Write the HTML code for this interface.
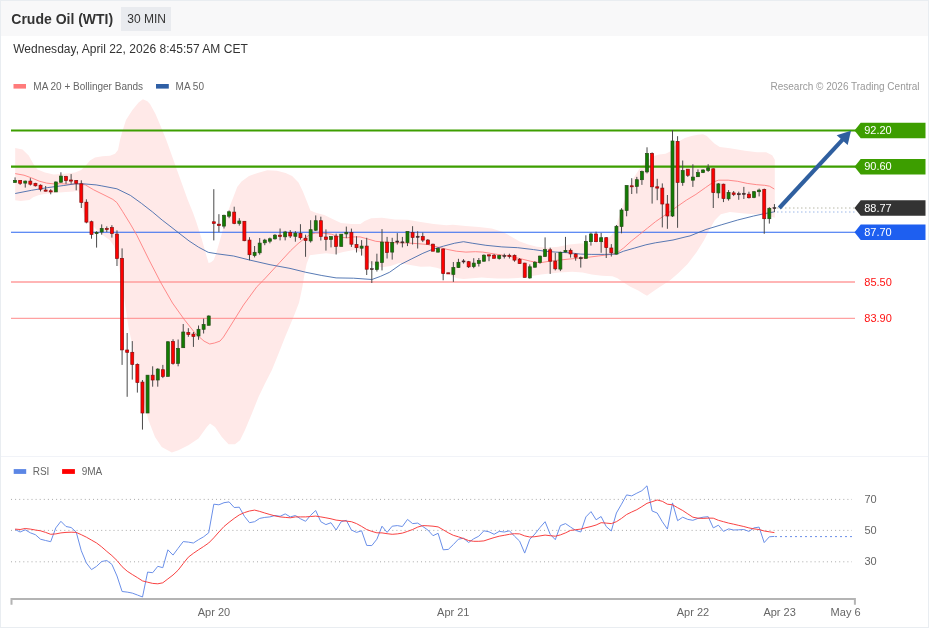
<!DOCTYPE html>
<html><head><meta charset="utf-8"><title>Crude Oil (WTI)</title>
<style>
html,body{margin:0;padding:0;background:#fff;}
body{width:929px;height:629px;overflow:hidden;position:relative;font-family:"Liberation Sans",sans-serif;}
#box{position:absolute;left:0;top:0;width:927px;height:626px;border:1px solid #e9edf1;background:#fff;}
#hdr{position:absolute;left:1px;top:1px;width:927px;height:35px;background:#f8f8f9;}
#tf{position:absolute;left:121px;top:7px;width:50.2px;height:24px;background:#e9ebef;}
svg{position:absolute;left:0;top:0;will-change:transform;}
svg text{font-family:"Liberation Sans",sans-serif;}
</style></head><body>
<div id="box"></div>
<div id="hdr"></div>
<div id="tf"></div>
<svg width="929" height="629" viewBox="0 0 929 629">
<polygon points="15.2,147.9 22.5,149.4 28.7,155.4 33.7,164.4 37.5,169.4 45.0,172.4 53.7,174.4 65.0,173.7 75.0,172.4 81.2,169.9 86.2,164.9 90.0,160.4 95.0,157.4 102.4,156.2 110.0,155.7 115.0,153.7 118.0,150.0 120.0,140.0 122.4,131.2 126.0,120.0 132.4,110.0 138.6,102.5 142.9,99.2 147.4,101.2 150.0,104.0 155.4,113.7 160.8,126.6 166.1,139.5 171.5,154.6 176.9,169.7 182.3,184.7 187.7,199.8 193.0,212.7 196.2,221.8 201.8,239.3 205.8,253.6 208.6,263.1 211.0,262.3 213.7,260.0 216.1,253.6 219.3,242.5 223.3,228.2 227.2,213.8 230.7,204.0 234.0,195.5 237.2,186.9 241.5,181.5 249.0,176.1 257.6,172.9 267.3,170.3 277.0,170.7 285.6,172.9 292.1,176.1 298.5,182.6 302.8,191.2 307.1,201.9 310.4,210.6 315.8,212.7 324.4,214.9 333.0,219.2 341.0,223.1 351.8,224.1 360.4,224.1 364.7,220.9 371.2,218.3 382.0,217.7 394.9,219.4 407.8,219.8 420.7,222.0 433.6,224.1 446.5,225.2 452.9,224.8 465.8,225.9 478.8,226.9 491.7,228.4 502.4,231.7 511.0,236.4 519.7,241.4 528.3,244.6 536.9,246.7 547.6,247.8 558.4,246.7 569.2,244.6 579.9,243.5 590.7,243.5 599.3,242.4 607.9,239.2 614.4,231.7 618.7,218.0 623.0,205.0 627.3,192.0 631.7,181.0 639.3,168.9 646.0,162.0 650.0,158.5 653.9,156.0 659.1,154.5 665.6,153.7 670.1,151.5 673.0,148.0 677.0,143.5 680.4,140.5 684.9,137.9 691.4,136.0 697.9,134.7 703.0,134.3 706.9,136.0 710.8,139.9 714.7,143.7 719.8,147.0 730.0,148.3 745.0,150.8 757.1,152.3 766.2,152.3 772.2,155.3 774.8,159.8 774.8,217.8 769.2,216.2 763.1,214.2 754.1,214.2 742.0,213.3 729.9,212.1 720.8,214.2 714.8,220.3 708.8,230.8 704.2,239.9 696.7,252.0 687.6,264.1 678.5,273.1 669.5,280.7 660.4,286.5 656.3,289.3 649.8,293.8 647.0,295.7 643.4,293.8 638.2,290.6 630.4,286.7 624.0,282.8 617.5,278.3 612.4,276.3 602.0,275.7 591.7,274.4 582.6,272.5 572.3,271.8 559.4,272.5 547.8,273.8 541.1,274.4 533.4,275.7 525.6,277.0 517.9,278.0 507.5,278.6 497.2,278.6 488.1,278.0 481.7,277.6 472.6,278.3 463.6,278.9 457.1,278.3 452.0,276.3 446.8,273.1 441.6,269.2 436.5,267.7 430.0,266.6 420.7,266.8 410.0,265.0 399.2,262.9 390.6,266.1 382.0,267.2 375.5,266.1 369.0,262.9 364.7,257.5 360.4,252.1 354.0,250.0 343.2,252.1 334.6,254.3 326.0,253.2 317.4,254.3 309.8,255.3 306.6,264.0 304.4,274.7 302.3,287.6 299.0,302.7 293.6,316.8 285.2,336.8 278.6,353.5 271.9,370.0 265.0,383.5 258.5,396.9 251.9,413.6 245.0,430.0 240.0,440.3 235.0,444.3 228.5,444.3 221.8,437.0 215.0,427.0 210.0,423.6 206.8,427.0 198.5,438.6 188.4,445.3 178.4,450.3 171.8,452.6 161.7,447.0 155.0,437.0 148.4,420.0 143.4,400.0 138.4,376.8 133.4,350.0 128.4,326.8 125.0,303.4 121.0,280.0 117.7,259.0 116.1,252.7 113.7,245.5 109.7,240.0 105.0,236.8 97.8,231.2 92.3,224.9 87.5,222.5 84.3,216.1 81.9,206.6 79.9,195.4 78.0,190.7 73.5,191.4 66.0,191.9 56.3,192.8 47.7,193.5 39.0,195.1 33.1,197.3 29.4,200.0 20.8,201.0 15.2,200.2" fill="#ffe9e8"/>
<line x1="11" y1="282.05" x2="855" y2="282.05" stroke="#ff9d9d" stroke-width="1.5"/>
<line x1="11" y1="318.3" x2="855" y2="318.3" stroke="#ff8a8a" stroke-width="1"/>
<line x1="11" y1="130.5" x2="858" y2="130.5" stroke="#3d9e00" stroke-width="2.2"/>
<line x1="11" y1="166.6" x2="858" y2="166.6" stroke="#3d9e00" stroke-width="2.2"/>
<line x1="11" y1="232.2" x2="858" y2="232.2" stroke="#2b66f0" stroke-width="1.1"/>
<polyline points="15.2,173.6 24.0,175.2 31.5,177.9 39.1,181.1 46.6,183.1 53.1,183.8 61.7,183.8 70.3,184.2 78.9,183.8 85.3,184.9 93.8,189.9 105.0,195.4 112.9,199.4 116.9,202.6 122.5,211.3 130.4,224.1 136.8,235.2 143.1,247.9 149.6,261.0 161.0,283.0 172.5,303.0 184.0,319.2 195.4,333.5 204.0,341.1 209.7,344.0 214.5,343.0 220.0,341.1 223.5,337.0 233.5,321.0 243.5,305.0 256.9,286.7 263.6,280.0 279.5,262.7 290.6,250.7 298.0,243.7 305.9,237.4 310.7,234.2 315.4,233.1 321.8,233.1 331.3,234.2 340.9,237.4 347.2,237.8 353.6,236.9 360.0,236.9 367.9,239.0 375.8,241.3 383.8,242.1 392.7,242.6 405.4,242.9 418.2,243.7 427.7,244.5 437.2,246.9 446.8,249.3 456.3,251.2 465.9,252.1 475.4,251.7 482.7,252.1 495.4,254.1 508.2,256.0 520.9,258.8 530.4,261.2 540.0,262.8 549.5,261.2 559.0,260.1 572.7,258.7 585.4,257.6 598.2,256.0 610.9,254.4 617.2,252.8 623.6,248.0 631.5,240.9 639.5,234.5 647.4,228.2 655.6,221.6 667.3,213.5 676.8,206.8 686.3,200.2 695.9,194.4 705.6,187.5 713.8,181.8 718.6,180.2 728.2,180.2 737.7,181.3 747.2,183.4 756.8,184.7 764.7,185.3 769.5,186.2 774.3,189.0" fill="none" stroke="#ff7f7f" stroke-width="0.9"/>
<polyline points="15.2,193.5 31.5,190.3 47.7,187.6 63.8,185.5 74.6,183.9 83.0,183.8 96.1,184.9 101.8,185.9 116.9,188.8 130.4,195.4 141.5,203.4 152.7,212.1 162.2,220.1 170.0,226.1 178.7,232.9 189.0,240.9 198.6,247.2 208.2,252.3 217.7,253.9 233.6,256.0 249.5,260.0 270.0,264.7 290.0,268.4 305.9,272.3 321.8,275.5 336.1,277.9 353.6,278.2 371.9,279.5 380.6,276.3 389.5,272.3 400.7,264.4 411.8,258.8 422.9,253.3 432.5,249.3 443.6,246.1 454.7,243.2 463.5,241.7 472.2,243.2 485.9,245.3 501.8,246.9 517.7,247.7 533.6,249.6 544.7,251.2 555.9,252.1 569.5,252.8 580.7,254.1 591.8,254.4 604.5,254.4 616.4,254.1 623.6,251.2 634.7,248.0 645.9,244.8 655.4,242.8 660.0,242.1 673.0,240.0 686.0,236.8 690.0,235.9 705.9,229.5 721.8,224.7 737.7,220.0 753.6,216.0 764.7,213.6 775.0,211.7" fill="none" stroke="#3a63a8" stroke-width="0.85"/>
<path d="M15.05 177.4V182.5M20.15 180.4V184.9M25.24 180.6V187.6M30.34 178.1V185.5M35.44 182.8V186.5M40.53 184.4V191.4M45.63 186.0V191.4M50.73 189.2V194.3M55.82 181.4V191.9M60.92 172.3V182.8M66.02 175.8V183.8M71.11 174.1V183.8M76.21 180.0V190.3M81.30 180.3V208.0M86.40 199.3V223.3M91.50 220.6V238.7M96.59 231.2V247.6M101.69 224.4V234.7M106.79 226.4V232.0M111.88 225.2V237.6M116.98 230.4V266.0M122.08 248.4V364.9M127.17 333.0V396.8M132.27 341.1V379.6M137.37 363.4V392.6M142.46 380.0V429.6M147.56 375.2V413.0M152.66 366.3V386.7M157.75 368.2V386.7M162.85 364.9V378.1M167.94 341.1V376.4M173.04 339.2V364.7M178.14 339.5V366.3M183.23 324.0V347.7M188.33 328.2V336.8M193.43 332.0V346.9M198.52 325.5V339.8M203.62 318.6V333.5M208.72 315.4V325.3M213.81 189.2V240.4M218.91 214.2V232.1M224.01 214.7V228.5M229.10 210.5V218.2M234.20 206.7V224.2M239.30 218.2V225.6M244.39 221.3V241.2M249.49 237.2V260.3M254.59 246.0V257.4M259.68 238.0V254.7M264.78 238.8V245.2M269.88 237.6V243.3M274.97 234.1V239.6M280.07 228.5V240.4M285.16 230.9V240.4M290.26 230.1V238.0M295.36 231.1V241.7M300.45 224.2V239.7M305.55 234.7V256.8M310.65 220.2V242.6M315.74 215.4V231.0M320.84 216.7V240.5M325.94 229.4V250.6M331.03 236.6V247.4M336.13 233.7V254.5M341.23 234.2V246.4M346.32 226.6V238.2M351.42 228.6V246.9M356.52 236.2V252.5M361.61 240.1V255.6M366.71 237.8V275.0M371.81 261.2V283.0M376.90 253.7V271.5M382.00 229.1V270.4M387.09 236.9V258.5M392.19 237.8V259.6M397.29 233.1V244.5M402.38 236.9V247.4M407.48 231.5V246.1M412.58 226.2V244.5M417.67 231.3V248.5M422.77 232.6V242.1M427.87 239.0V244.2M432.96 243.7V251.2M438.06 247.4V252.5M443.16 248.5V280.3M448.25 272.8V273.9M453.35 262.0V281.9M458.45 258.8V268.0M463.54 259.1V263.6M468.64 260.9V268.0M473.74 258.2V268.2M478.83 258.0V266.5M483.93 254.4V261.7M489.02 254.8V261.2M494.12 254.1V258.3M499.22 254.8V259.6M504.31 253.7V258.5M509.41 253.7V258.5M514.51 254.5V261.7M519.60 258.0V263.6M524.70 262.8V277.4M529.80 264.4V278.7M534.89 261.2V267.6M539.99 255.6V263.6M545.09 237.4V256.9M550.18 247.7V273.9M555.28 252.9V270.4M560.38 251.7V271.1M565.47 236.9V252.5M570.57 248.5V257.6M575.66 253.3V260.7M580.76 256.5V267.6M585.86 235.3V258.4M590.95 232.6V245.6M596.05 231.7V242.2M601.15 232.9V252.8M606.24 237.2V258.0M611.34 244.1V256.5M616.44 225.0V254.4M621.53 208.2V233.3M626.63 185.5V216.3M631.73 178.2V194.0M636.82 176.9V193.5M641.92 170.6V184.9M647.02 147.3V173.4M652.11 152.4V203.6M657.21 178.8V200.2M662.31 183.4V227.4M667.40 195.0V228.8M672.50 130.0V217.0M677.59 136.2V227.8M682.69 160.5V185.8M687.79 169.2V176.9M692.88 164.3V186.9M697.98 169.4V176.9M703.08 169.2V173.1M708.17 164.2V171.9M713.27 168.3V208.0M718.37 183.1V198.2M723.46 183.7V202.1M728.56 190.1V200.6M733.66 191.0V196.1M738.75 191.7V199.8M743.85 186.9V199.0M748.95 191.7V198.5M754.04 191.0V198.2M759.14 188.6V196.4M764.24 188.6V233.8M769.33 207.2V223.6M774.43 204.1V212.0" stroke="#4a4a4a" stroke-width="1" fill="none"/>
<g fill="#127c02" stroke="#254d18" stroke-width="0.7"><rect x="13.55" y="180.4" width="3" height="2.1"/><rect x="23.74" y="181.1" width="3" height="2.0"/><rect x="54.32" y="182.0" width="3" height="9.9"/><rect x="59.42" y="176.1" width="3" height="6.1"/><rect x="95.09" y="232.3" width="3" height="1.3"/><rect x="100.19" y="228.5" width="3" height="3.5"/><rect x="146.06" y="375.2" width="3" height="37.8"/><rect x="156.25" y="369.1" width="3" height="10.9"/><rect x="166.44" y="341.8" width="3" height="34.6"/><rect x="176.64" y="348.4" width="3" height="15.0"/><rect x="181.73" y="332.0" width="3" height="15.7"/><rect x="197.02" y="329.3" width="3" height="6.7"/><rect x="202.12" y="324.5" width="3" height="4.8"/><rect x="207.22" y="316.0" width="3" height="9.3"/><rect x="222.51" y="215.3" width="3" height="10.8"/><rect x="227.60" y="211.8" width="3" height="4.4"/><rect x="237.80" y="221.0" width="3" height="2.4"/><rect x="253.09" y="252.3" width="3" height="3.2"/><rect x="258.18" y="243.1" width="3" height="9.7"/><rect x="263.28" y="240.1" width="3" height="2.7"/><rect x="268.38" y="238.8" width="3" height="2.4"/><rect x="273.47" y="235.2" width="3" height="3.6"/><rect x="283.66" y="232.0" width="3" height="4.8"/><rect x="293.86" y="233.1" width="3" height="3.2"/><rect x="309.15" y="229.7" width="3" height="11.2"/><rect x="314.24" y="220.7" width="3" height="9.5"/><rect x="329.53" y="236.6" width="3" height="2.8"/><rect x="339.73" y="234.2" width="3" height="12.2"/><rect x="344.82" y="232.3" width="3" height="1.6"/><rect x="360.11" y="246.1" width="3" height="2.1"/><rect x="375.40" y="262.0" width="3" height="7.5"/><rect x="380.50" y="242.1" width="3" height="20.5"/><rect x="390.69" y="242.4" width="3" height="9.7"/><rect x="405.98" y="231.5" width="3" height="11.1"/><rect x="436.56" y="248.5" width="3" height="3.6"/><rect x="451.85" y="267.6" width="3" height="6.8"/><rect x="456.95" y="262.3" width="3" height="5.3"/><rect x="472.24" y="263.1" width="3" height="3.5"/><rect x="477.33" y="260.6" width="3" height="2.8"/><rect x="482.43" y="255.2" width="3" height="6.0"/><rect x="497.72" y="255.6" width="3" height="2.9"/><rect x="528.30" y="266.8" width="3" height="11.1"/><rect x="533.39" y="262.3" width="3" height="4.9"/><rect x="538.49" y="256.1" width="3" height="6.4"/><rect x="543.59" y="249.6" width="3" height="6.8"/><rect x="558.88" y="252.3" width="3" height="16.8"/><rect x="563.97" y="250.5" width="3" height="1.5"/><rect x="584.36" y="241.4" width="3" height="17.0"/><rect x="589.45" y="234.0" width="3" height="7.7"/><rect x="599.65" y="237.7" width="3" height="4.0"/><rect x="614.94" y="226.3" width="3" height="27.8"/><rect x="620.03" y="210.0" width="3" height="16.5"/><rect x="625.13" y="185.5" width="3" height="25.0"/><rect x="635.32" y="179.7" width="3" height="6.7"/><rect x="640.42" y="171.5" width="3" height="8.2"/><rect x="645.52" y="153.4" width="3" height="18.5"/><rect x="671.00" y="141.0" width="3" height="75.0"/><rect x="681.19" y="170.6" width="3" height="12.0"/><rect x="691.38" y="177.1" width="3" height="3.1"/><rect x="696.48" y="172.6" width="3" height="4.1"/><rect x="701.58" y="170.0" width="3" height="2.6"/><rect x="706.67" y="167.9" width="3" height="2.6"/><rect x="716.87" y="183.9" width="3" height="9.0"/><rect x="727.06" y="192.4" width="3" height="6.4"/><rect x="752.54" y="191.7" width="3" height="5.7"/><rect x="757.64" y="190.1" width="3" height="1.6"/><rect x="767.83" y="208.3" width="3" height="10.4"/></g>
<g fill="#ff0000" stroke="#861010" stroke-width="0.7"><rect x="18.65" y="180.4" width="3" height="2.9"/><rect x="28.84" y="181.1" width="3" height="3.1"/><rect x="33.94" y="183.3" width="3" height="2.5"/><rect x="39.03" y="185.2" width="3" height="4.0"/><rect x="44.13" y="190.0" width="3" height="1.2"/><rect x="49.23" y="190.8" width="3" height="1.1"/><rect x="64.52" y="176.6" width="3" height="4.0"/><rect x="69.61" y="180.0" width="3" height="1.1"/><rect x="74.71" y="180.6" width="3" height="2.7"/><rect x="79.80" y="183.8" width="3" height="18.6"/><rect x="84.90" y="202.2" width="3" height="19.9"/><rect x="90.00" y="221.7" width="3" height="12.7"/><rect x="105.29" y="228.5" width="3" height="1.0"/><rect x="110.38" y="227.6" width="3" height="6.0"/><rect x="115.48" y="234.1" width="3" height="24.3"/><rect x="120.58" y="258.4" width="3" height="91.5"/><rect x="125.67" y="350.0" width="3" height="2.3"/><rect x="130.77" y="352.3" width="3" height="12.1"/><rect x="135.87" y="364.4" width="3" height="18.1"/><rect x="140.96" y="382.1" width="3" height="30.9"/><rect x="151.16" y="375.2" width="3" height="4.8"/><rect x="161.35" y="369.7" width="3" height="6.7"/><rect x="171.54" y="341.5" width="3" height="21.9"/><rect x="186.83" y="332.6" width="3" height="1.9"/><rect x="191.93" y="334.1" width="3" height="2.3"/><rect x="212.31" y="221.8" width="3" height="1.6"/><rect x="217.41" y="224.2" width="3" height="1.4"/><rect x="232.70" y="212.1" width="3" height="11.3"/><rect x="242.89" y="221.3" width="3" height="19.4"/><rect x="247.99" y="240.1" width="3" height="14.6"/><rect x="278.57" y="235.2" width="3" height="1.2"/><rect x="288.76" y="232.5" width="3" height="3.5"/><rect x="298.95" y="233.5" width="3" height="4.2"/><rect x="304.05" y="238.2" width="3" height="2.3"/><rect x="319.34" y="220.7" width="3" height="15.9"/><rect x="324.44" y="237.0" width="3" height="2.4"/><rect x="334.63" y="236.2" width="3" height="10.2"/><rect x="349.92" y="232.6" width="3" height="11.6"/><rect x="355.02" y="244.5" width="3" height="3.2"/><rect x="365.21" y="246.1" width="3" height="23.1"/><rect x="385.59" y="242.1" width="3" height="10.4"/><rect x="411.08" y="232.6" width="3" height="4.8"/><rect x="421.27" y="236.6" width="3" height="3.5"/><rect x="426.37" y="240.1" width="3" height="4.1"/><rect x="431.46" y="244.2" width="3" height="7.0"/><rect x="441.66" y="249.0" width="3" height="24.6"/><rect x="446.75" y="272.8" width="3" height="1.1"/><rect x="467.14" y="261.7" width="3" height="5.1"/><rect x="487.52" y="254.8" width="3" height="1.2"/><rect x="492.62" y="255.2" width="3" height="3.1"/><rect x="507.91" y="255.3" width="3" height="1.1"/><rect x="513.01" y="255.3" width="3" height="4.8"/><rect x="518.10" y="259.3" width="3" height="4.3"/><rect x="523.20" y="263.1" width="3" height="14.3"/><rect x="548.68" y="249.8" width="3" height="11.4"/><rect x="553.78" y="261.2" width="3" height="7.6"/><rect x="569.07" y="250.3" width="3" height="3.6"/><rect x="574.16" y="254.1" width="3" height="3.1"/><rect x="594.55" y="234.0" width="3" height="7.7"/><rect x="604.74" y="237.7" width="3" height="9.9"/><rect x="609.84" y="248.0" width="3" height="4.8"/><rect x="630.23" y="185.8" width="3" height="1.0"/><rect x="650.61" y="153.4" width="3" height="33.4"/><rect x="655.71" y="186.8" width="3" height="1.3"/><rect x="660.81" y="188.1" width="3" height="15.9"/><rect x="665.90" y="204.0" width="3" height="12.0"/><rect x="676.09" y="141.4" width="3" height="41.0"/><rect x="686.29" y="169.2" width="3" height="6.1"/><rect x="711.77" y="168.8" width="3" height="23.8"/><rect x="721.96" y="184.2" width="3" height="14.3"/><rect x="732.16" y="192.9" width="3" height="1.6"/><rect x="747.45" y="194.2" width="3" height="3.5"/><rect x="762.74" y="189.4" width="3" height="29.3"/></g>
<g fill="#5a1a1a" stroke="#333" stroke-width="0.5"><rect x="370.31" y="268.7" width="3" height="1.0"/><rect x="395.79" y="241.0" width="3" height="1.1"/><rect x="400.88" y="241.8" width="3" height="1.1"/><rect x="416.17" y="236.2" width="3" height="1.2"/><rect x="462.04" y="260.9" width="3" height="1.1"/><rect x="502.81" y="255.6" width="3" height="1.0"/><rect x="579.26" y="257.6" width="3" height="1.2"/><rect x="737.25" y="193.7" width="3" height="1.1"/><rect x="742.35" y="193.2" width="3" height="1.3"/><rect x="772.93" y="207.6" width="3" height="1.0"/></g>
<line x1="777" y1="208" x2="856" y2="208" stroke="#b8b8a8" stroke-width="1" stroke-dasharray="1.5,2.5"/>
<line x1="777" y1="212" x2="856" y2="212" stroke="#9db8e8" stroke-width="1" stroke-dasharray="1.5,2.5"/>
<line x1="779.3" y1="208.0" x2="842.6" y2="139.7" stroke="#2f5f9f" stroke-width="4.1"/>
<polygon points="851.0,130.7 847.7,144.9 836.7,135.2" fill="#2f5f9f"/>
<polygon points="854.5,130.5 860.7,122.7 925.5,122.7 925.5,138.2 860.7,138.2" fill="#3d9e00"/>
<text x="864.2" y="134.1" fill="#fff" font-size="11">92.20</text>
<polygon points="854.5,166.7 860.7,158.9 925.5,158.9 925.5,174.4 860.7,174.4" fill="#3d9e00"/>
<text x="864.2" y="170.3" fill="#fff" font-size="11">90.60</text>
<polygon points="854.5,208.1 860.7,200.3 925.5,200.3 925.5,215.8 860.7,215.8" fill="#333333"/>
<text x="864.2" y="211.7" fill="#fff" font-size="11">88.77</text>
<polygon points="854.5,232.2 860.7,224.4 925.5,224.4 925.5,239.9 860.7,239.9" fill="#1e5ff0"/>
<text x="864.2" y="235.8" fill="#fff" font-size="11">87.70</text>
<text x="864.3" y="285.7" fill="#ff1212" font-size="11">85.50</text>
<text x="864.3" y="321.7" fill="#ff1212" font-size="11">83.90</text>
<line x1="1" y1="456.5" x2="928" y2="456.5" stroke="#f1f3f8" stroke-width="1"/>
<line x1="11" y1="499.4" x2="852" y2="499.4" stroke="#aaa" stroke-width="1" stroke-dasharray="1,3.1"/>
<line x1="11" y1="530.4" x2="852" y2="530.4" stroke="#aaa" stroke-width="1" stroke-dasharray="1,3.1"/>
<line x1="11" y1="561.8" x2="852" y2="561.8" stroke="#aaa" stroke-width="1" stroke-dasharray="1,3.1"/>
<text x="864.5" y="503.3" fill="#666" font-size="11">70</text>
<text x="864.5" y="534.3" fill="#666" font-size="11">50</text>
<text x="864.5" y="565.3" fill="#666" font-size="11">30</text>
<polyline points="15.1,529.5 20.1,532.0 25.2,529.8 30.3,532.8 35.4,534.7 40.5,539.2 45.6,540.5 50.7,541.7 55.8,527.9 60.9,521.3 66.0,526.5 71.1,527.5 76.2,532.0 81.3,550.8 86.4,563.0 91.5,569.6 96.6,566.3 101.7,561.5 106.8,560.5 111.9,564.4 117.0,576.0 122.1,591.5 127.2,592.1 132.3,593.1 137.4,595.0 142.5,597.0 147.6,572.1 152.7,572.7 157.8,566.3 162.8,567.7 167.9,549.8 173.0,555.1 178.1,548.3 183.2,541.6 188.3,542.1 193.4,543.0 198.5,539.7 203.6,536.8 208.7,532.8 213.8,504.2 218.9,504.8 224.0,502.7 229.1,501.9 234.2,507.5 239.3,507.2 244.4,516.3 249.5,522.7 254.6,521.7 259.7,518.4 264.8,517.4 269.9,516.9 275.0,515.5 280.1,516.3 285.2,513.9 290.3,516.9 295.4,515.5 300.5,518.8 305.6,521.3 310.6,515.3 315.7,510.5 320.8,521.7 325.9,524.6 331.0,522.7 336.1,530.0 341.2,521.7 346.3,520.3 351.4,530.0 356.5,532.4 361.6,530.8 366.7,545.4 371.8,545.6 376.9,539.2 382.0,526.2 387.1,532.4 392.2,526.2 397.3,525.6 402.4,526.5 407.5,519.4 412.6,523.6 417.7,523.1 422.8,526.5 427.9,530.0 433.0,535.7 438.1,533.3 443.2,549.8 448.3,549.4 453.3,544.6 458.4,539.2 463.5,538.2 468.6,542.5 473.7,538.8 478.8,536.2 483.9,530.8 489.0,531.8 494.1,534.3 499.2,531.4 504.3,532.0 509.4,530.8 514.5,536.2 519.6,541.1 524.7,553.1 529.8,539.2 534.9,534.0 540.0,527.5 545.1,521.7 550.2,534.3 555.3,539.7 560.4,525.6 565.5,523.6 570.6,527.1 575.7,530.4 580.8,532.0 585.9,516.9 591.0,511.6 596.1,519.8 601.1,516.5 606.2,526.5 611.3,531.0 616.4,513.0 621.5,504.2 626.6,494.9 631.7,495.9 636.8,493.2 641.9,490.7 647.0,485.8 652.1,511.0 657.2,513.0 662.3,521.7 667.4,529.1 672.5,502.9 677.6,520.7 682.7,517.2 687.8,519.4 692.9,520.3 698.0,518.4 703.1,517.2 708.2,516.7 713.3,527.9 718.4,525.2 723.5,531.4 728.6,528.9 733.7,530.0 738.8,529.8 743.8,529.5 748.9,531.4 754.0,527.9 759.1,527.1 764.2,542.6 769.3,536.8 774.4,536.4" fill="none" stroke="#6a8fe8" stroke-width="1"/>
<line x1="775" y1="536.6" x2="855" y2="536.6" stroke="#6a8fe8" stroke-width="1" stroke-dasharray="2,3"/>
<polyline points="15.1,529.1 20.1,529.5 25.2,528.5 30.3,529.1 35.4,530.0 40.5,530.8 45.6,532.4 50.7,534.3 55.8,533.9 60.9,532.9 66.0,532.4 71.1,532.2 76.2,532.4 81.3,534.7 86.4,537.2 91.5,540.1 96.6,543.0 101.7,546.9 106.8,551.4 111.9,555.6 117.0,560.5 122.1,566.7 127.2,571.2 132.3,574.5 137.4,577.6 142.5,580.9 147.6,582.2 152.7,583.4 157.8,583.8 162.8,582.8 167.9,578.9 173.0,575.0 178.1,570.2 183.2,563.6 188.3,557.2 193.4,553.3 198.5,549.8 203.6,546.5 208.7,543.0 213.8,537.8 218.9,532.0 224.0,526.5 229.1,522.3 234.2,518.4 239.3,514.9 244.4,512.6 249.5,511.0 254.6,510.1 259.7,511.4 264.8,513.0 269.9,514.5 275.0,515.9 280.1,516.9 285.2,517.4 290.3,517.8 295.4,516.9 300.5,516.9 305.6,516.9 310.6,516.5 315.7,516.1 320.8,516.9 325.9,517.8 331.0,518.8 336.1,520.1 341.2,520.7 346.3,521.1 351.4,521.7 356.5,523.6 361.6,526.4 366.7,529.5 371.8,531.4 376.9,532.8 382.0,532.9 387.1,533.7 392.2,534.3 397.3,533.9 402.4,533.1 407.5,531.4 412.6,529.5 417.7,527.1 422.8,525.6 427.9,525.8 433.0,526.2 438.1,526.9 443.2,529.8 448.3,532.8 453.3,535.3 458.4,536.8 463.5,538.6 468.6,540.5 473.7,541.3 478.8,541.3 483.9,540.9 489.0,539.2 494.1,537.6 499.2,536.2 504.3,535.3 509.4,534.3 514.5,533.7 519.6,533.9 524.7,535.9 529.8,537.0 534.9,536.7 540.0,535.9 545.1,535.1 550.2,535.7 555.3,536.2 560.4,534.9 565.5,532.9 570.6,530.4 575.7,529.7 580.8,529.1 585.9,527.7 591.0,526.5 596.1,525.0 601.1,522.7 606.2,523.1 611.3,523.6 616.4,521.7 621.5,518.4 626.6,514.5 631.7,512.0 636.8,509.7 641.9,506.6 647.0,503.3 652.1,501.7 657.2,500.0 662.3,501.3 667.4,504.2 672.5,504.8 677.6,507.7 682.7,510.5 687.8,513.9 692.9,517.2 698.0,518.2 703.1,518.4 708.2,518.1 713.3,518.2 718.4,520.3 723.5,521.7 728.6,523.1 733.7,524.2 738.8,525.4 743.8,526.5 748.9,527.9 754.0,528.9 759.1,529.5 764.2,531.0 769.3,531.8 774.4,532.6" fill="none" stroke="#f83838" stroke-width="0.95"/>
<path d="M11.5 604.8V598.9H854.9V604.8" fill="none" stroke="#b4b4b4" stroke-width="2"/>
<text x="214.0" y="616.3" fill="#666" font-size="11" text-anchor="middle">Apr 20</text>
<text x="453.3" y="616.3" fill="#666" font-size="11" text-anchor="middle">Apr 21</text>
<text x="693" y="616.3" fill="#666" font-size="11" text-anchor="middle">Apr 22</text>
<text x="779.6" y="616.3" fill="#666" font-size="11" text-anchor="middle">Apr 23</text>
<text x="845.6" y="616.3" fill="#666" font-size="11" text-anchor="middle">May 6</text>
<text x="11.3" y="23.6" fill="#333" font-size="14" font-weight="bold">Crude Oil (WTI)</text>
<text x="127.3" y="23" fill="#333" font-size="12">30 MIN</text>
<text x="13.2" y="52.8" fill="#333" font-size="12" textLength="234.6" lengthAdjust="spacing">Wednesday, April 22, 2026 8:45:57 AM CET</text>
<rect x="13.5" y="84" width="12.5" height="4.6" fill="#ff7b7b"/>
<text x="33.3" y="89.8" fill="#666" font-size="10">MA 20 + Bollinger Bands</text>
<rect x="156" y="84" width="12.8" height="4.6" fill="#2f5fa5"/>
<text x="175.6" y="89.8" fill="#666" font-size="10">MA 50</text>
<text x="919.6" y="89.8" fill="#999" font-size="10" text-anchor="end">Research © 2026 Trading Central</text>
<rect x="13.7" y="469.1" width="12.5" height="4.8" fill="#5b86e5"/>
<text x="32.7" y="474.8" fill="#666" font-size="10">RSI</text>
<rect x="62.1" y="469.1" width="12.8" height="4.8" fill="#ff0000"/>
<text x="81.7" y="474.8" fill="#666" font-size="10">9MA</text>
</svg>
</body></html>
